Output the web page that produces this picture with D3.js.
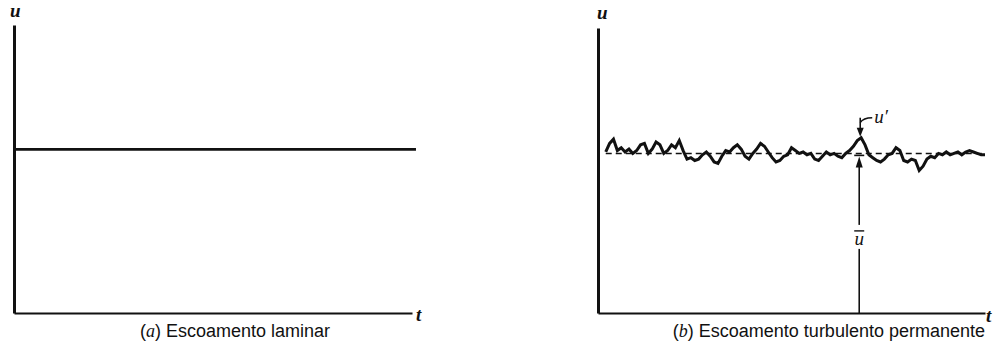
<!DOCTYPE html>
<html>
<head>
<meta charset="utf-8">
<script src="https://cdn.jsdelivr.net/npm/d3@7/dist/d3.min.js"></script>
<style>
  html, body { margin: 0; padding: 0; background: #fff; }
  svg { display: block; }
  .cap { font-family: "Liberation Sans", Arial, sans-serif; font-size: 18px; fill: #111; }
  .it { font-family: "Liberation Serif", "Times New Roman", serif; font-style: italic; }
  .lab { font-family: "Liberation Serif", "Times New Roman", serif; font-style: italic; font-weight: bold; font-size: 19px; fill: #111; }
</style>
</head>
<body>
<svg id="chart" width="993" height="360"></svg>
<script>
// ---- data ----
const panelCaptions = ["Escoamento laminar", "Escoamento turbulento permanente"];
const panelLetters = ["a", "b"];
const axisLabels = { y: "u", x: "t" };
const laminarU = 5.68;          // constant velocity (laminar)
const laminarT = [0, 10.1];
const meanU = 5.6;              // ū (turbulent mean)
const markT = 6.75;             // where u' and ū are marked
const peakUprime = 0.55;        // u' at the marked instant
const turbT = [0.2,0.3,0.4,0.5,0.6,0.7,0.8,0.9,1.0,1.1,1.2,1.3,1.4,1.5,1.6,1.7,1.8,1.9,2.0,
  2.1,2.2,2.3,2.4,2.5,2.6,2.7,2.8,2.9,3.0,3.1,3.2,3.3,3.4,3.5,3.6,3.7,3.8,3.9,4.0,
  4.1,4.2,4.3,4.4,4.5,4.6,4.7,4.8,4.9,5.0,5.1,5.2,5.3,5.4,5.5,5.6,5.7,5.8,5.9,6.0,
  6.1,6.2,6.3,6.4,6.5,6.6,6.7,6.8,6.9,7.0,7.1,7.2,7.3,7.4,7.5,7.6,7.7,7.8,7.9,8.0,
  8.1,8.2,8.3,8.4,8.5,8.6,8.7,8.8,8.9,9.0,9.1,9.2,9.3,9.4,9.5,9.6,9.7,9.8,9.9,10.0];
const turbUprime = [0.05,0.35,0.5,0.1,0.2,0.05,0.15,0.0,0.1,0.3,0.35,0.0,0.15,0.4,0.3,0.0,0.1,0.3,0.2,
  0.45,0.1,-0.2,-0.15,-0.25,-0.2,-0.05,0.05,-0.1,-0.3,-0.35,-0.1,0.1,0.05,0.2,0.3,0.15,-0.1,-0.2,0.0,
  0.15,0.35,0.25,0.05,-0.15,-0.3,-0.25,-0.1,-0.05,0.2,0.1,0.0,0.05,-0.05,0.0,-0.2,-0.25,-0.1,0.05,-0.05,
  0.0,-0.1,-0.15,0.0,0.1,0.25,0.45,0.55,0.3,-0.05,-0.15,-0.25,-0.3,-0.2,-0.05,0.0,0.2,0.1,-0.25,-0.3,
  -0.2,-0.25,-0.6,-0.45,-0.2,-0.1,-0.15,0.0,-0.05,0.05,-0.05,0.0,0.05,-0.05,0.05,0.1,0.05,0.0,-0.05,-0.05];

// ---- layout ----
const svg = d3.select("#chart");
const ink = "#111";

function panel(x0, x1, yTop, yBot) {
  const x = d3.scaleLinear().domain([0, 10]).range([x0, x1]);
  const y = d3.scaleLinear().domain([0, 10]).range([yBot, yTop]);
  const g = svg.append("g");
  g.append("g").attr("transform", `translate(0,${yBot})`)
    .call(d3.axisBottom(x).ticks(0).tickSizeOuter(0))
    .call(s => s.select(".domain").attr("stroke", ink).attr("stroke-width", 2.2));
  g.append("g").attr("transform", `translate(${x0},0)`)
    .call(d3.axisLeft(y).ticks(0).tickSizeOuter(0))
    .call(s => s.select(".domain").attr("stroke", ink).attr("stroke-width", 3));
  return { x, y, g };
}

// Panel (a)
const A = panel(14, 412, 25, 313);
A.g.append("path")
  .attr("d", d3.line().x(d => A.x(d)).y(() => A.y(laminarU))(laminarT))
  .attr("stroke", ink).attr("stroke-width", 2.8).attr("fill", "none");
A.g.append("text").attr("class", "lab").attr("x", 10).attr("y", 17).text(axisLabels.y);
A.g.append("text").attr("class", "lab").attr("x", 416).attr("y", 321).text(axisLabels.x);

// Panel (b)
const B = panel(598, 985, 28, 313);
B.g.append("text").attr("class", "lab").attr("x", 597).attr("y", 19).text(axisLabels.y);
B.g.append("text").attr("class", "lab").attr("x", 986).attr("y", 322).text(axisLabels.x);

// mean dashed line
B.g.append("line")
  .attr("x1", B.x(turbT[0])).attr("x2", B.x(turbT[turbT.length - 1]))
  .attr("y1", B.y(meanU)).attr("y2", B.y(meanU))
  .attr("stroke", ink).attr("stroke-width", 1.5).attr("stroke-dasharray", "6,4");

// turbulent signal
const turb = turbT.map((t, i) => [t, meanU + turbUprime[i]]);
B.g.append("path")
  .attr("d", d3.line().x(d => B.x(d[0])).y(d => B.y(d[1]))(turb))
  .attr("stroke", ink).attr("stroke-width", 3).attr("fill", "none")
  .attr("stroke-linejoin", "miter");

// ū marker: vertical line with arrow up to mean
const mx = B.x(markT);
const yMean = B.y(meanU);
const yLab = B.y(2.6);
B.g.append("line").attr("x1", mx).attr("x2", mx).attr("y1", yMean + 10).attr("y2", yLab - 14)
  .attr("stroke", ink).attr("stroke-width", 1.6);
B.g.append("line").attr("x1", mx).attr("x2", mx).attr("y1", yLab + 10).attr("y2", B.y(0))
  .attr("stroke", ink).attr("stroke-width", 1.6);
B.g.append("path")
  .attr("d", `M${mx},${yMean + 3} L${mx - 3.5},${yMean + 14} L${mx + 3.5},${yMean + 14} Z`)
  .attr("fill", ink);
B.g.append("line").attr("x1", mx - 5).attr("x2", mx + 5).attr("y1", yMean + 2).attr("y2", yMean + 2)
  .attr("stroke", ink).attr("stroke-width", 1.6);
B.g.append("text").attr("class", "lab").attr("x", mx).attr("y", yLab + 6)
  .attr("text-anchor", "middle").style("font-weight", "normal").text(axisLabels.y);
B.g.append("line").attr("x1", mx - 5).attr("x2", mx + 5).attr("y1", yLab - 8).attr("y2", yLab - 8)
  .attr("stroke", ink).attr("stroke-width", 1.4);

// u' marker: arrow from above to the peak
const yPeak = B.y(meanU + peakUprime);
B.g.append("line").attr("x1", mx + 1).attr("x2", mx + 1).attr("y1", yPeak - 20).attr("y2", yPeak - 6)
  .attr("stroke", ink).attr("stroke-width", 1.6);
B.g.append("path")
  .attr("d", `M${mx + 1},${yPeak - 1} L${mx - 2.5},${yPeak - 10} L${mx + 4.5},${yPeak - 10} Z`)
  .attr("fill", ink);
B.g.append("path")
  .attr("d", `M${mx + 1},${yPeak - 15} Q${mx + 4},${yPeak - 20} ${mx + 13},${yPeak - 20}`)
  .attr("stroke", ink).attr("stroke-width", 1.4).attr("fill", "none");
B.g.append("text").attr("class", "lab").attr("x", mx + 15).attr("y", yPeak - 15)
  .style("font-weight", "normal").text(axisLabels.y + "′");

// captions
function caption(x, y, anchor, letter, txt) {
  const t = svg.append("text").attr("class", "cap").attr("x", x).attr("y", y)
    .attr("text-anchor", anchor);
  t.append("tspan").text("(");
  t.append("tspan").attr("class", "it").text(letter);
  t.append("tspan").text(") " + txt);
}
caption(140, 337, "start", panelLetters[0], panelCaptions[0]);
caption(985, 337, "end", panelLetters[1], panelCaptions[1]);
</script>
</body>
</html>
